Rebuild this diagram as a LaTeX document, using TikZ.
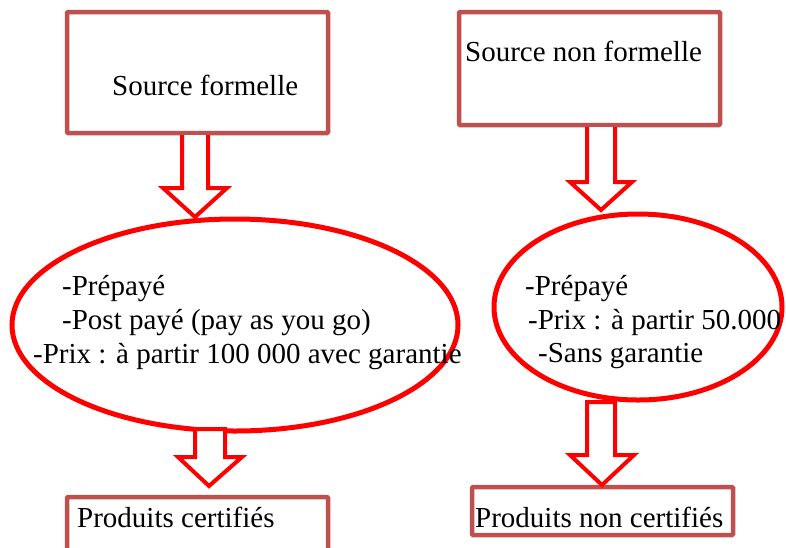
\documentclass[tikz,border=0pt]{standalone}
\usepackage{fontspec}
\setmainfont{Liberation Serif}
\newfontfamily\tnr{Liberation Serif}
\definecolor{boxred}{HTML}{C0504D}
\definecolor{arrred}{HTML}{FF0000}
\begin{document}
\begin{tikzpicture}[x=1pt,y=-1pt,
  box/.style={draw=boxred,line width=4.5pt,rounded corners=1pt,fill=white},
  oval/.style={draw=arrred,line width=5pt},
  blockarrow/.style={draw=arrred,line width=4pt,fill=white,line join=miter},
  txt/.style={anchor=base west,inner sep=0pt,font=\tnr\fontsize{29}{34}\selectfont}]
\useasboundingbox (0,0) rectangle (786,547);
% boxes
\draw[box] (67,12) rectangle (328,133);
\draw[box] (459,12) rectangle (720,125);
\draw[box] (67,497) rectangle (328,565);
\draw[box] (472,487) rectangle (733,535);
% ellipses
\draw[oval] (235,325) ellipse [x radius=223, y radius=106];
\draw[oval] (638,307) ellipse [x radius=144, y radius=93];
% arrows
\draw[blockarrow] (182,135) -- (182,188) -- (163,188) -- (195,217) -- (227,188) -- (208,188) -- (208,135);
\draw[blockarrow] (587,127) -- (587,182) -- (570,182) -- (601,210) -- (632,182) -- (615,182) -- (615,127);
\draw[blockarrow] (195,429) -- (195,457) -- (178,457) -- (209,486) -- (242,457) -- (225,457) -- (225,429) -- cycle;
\draw[blockarrow] (587,402) -- (587,455) -- (570,455) -- (602,485) -- (634,455) -- (615,455) -- (615,402) -- cycle;
% texts
\node[txt] (t1) at (112,95) {Source formelle};
\node[txt] (t2) at (465,61) {Source non formelle};
\node[txt] (e1a) at (62,295) {-Prépayé};
\node[txt] (e1b) at (62,329) {-Post payé (pay as you go)};
\node[txt] (e1c) at (33,363) {-Prix : à partir 100 000 avec garantie};
\node[txt] (e2a) at (525,295) {-Prépayé};
\node[txt] (e2b) at (528,329) {-Prix : à partir 50.000};
\node[txt] (e2c) at (538,362) {-Sans garantie};
\node[txt] (t3) at (77,527) {Produits certifiés};
\node[txt] (t4) at (475,527) {Produits non certifiés};
\end{tikzpicture}
\end{document}
